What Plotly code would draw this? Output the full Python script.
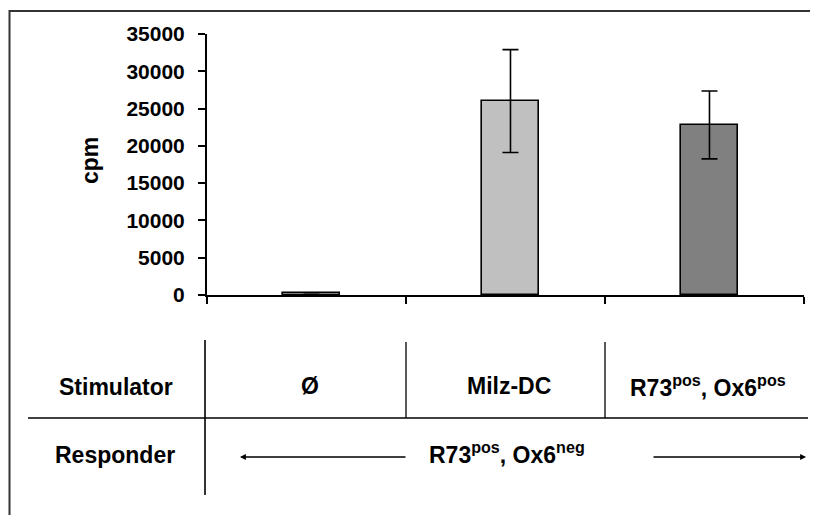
import plotly.graph_objects as go

# ---- data ----
stimulators = ["Ø", "Milz-DC", "R73<sup>pos</sup>, Ox6<sup>pos</sup>"]
cpm_values = [300, 26000, 22800]
cpm_errors = [0, 6900, 4550]
bar_colors = ["#FFFFFF", "#C0C0C0", "#808080"]
y_ticks = [0, 5000, 10000, 15000, 20000, 25000, 30000, 35000]
responder_label = "R73<sup>pos</sup>, Ox6<sup>neg</sup>"

FONT = "Liberation Sans, Arial, sans-serif"
OFF = 8  # page body margin
W, H = 819 - 2 * OFF, 524 - 2 * OFF
L, T = 207 - OFF, 34 - OFF
R = W - (804 - OFF)
B = H - (295 - OFF)
PW = W - L - R
PH = H - T - B

def px(xpix):
    """reference-screen x pixel -> paper x"""
    return (xpix - OFF - L) / PW

def py(ypix):
    """reference-screen y pixel -> paper y"""
    return (H - B - (ypix - OFF)) / PH

xpos = list(range(len(stimulators)))

fig = go.Figure()
fig.add_trace(go.Bar(
    x=xpos, y=cpm_values,
    width=0.285, offset=-0.1175,
    marker=dict(color=bar_colors, line=dict(color="#000000", width=1.6)),
    error_y=dict(type="data", array=cpm_errors, visible=True,
                 color="#000000", thickness=1.6, width=8),
    showlegend=False,
))

shapes = []
line_col = "#000000"
# outer frame (only top and left visible), kept inside the figure
fx0, fy0 = px(OFF + 1.5), py(11)
fx1, fy1 = px(OFF + W - 1), py(OFF + H - 1)
shapes.append(dict(type="path", xref="paper", yref="paper",
                   path=f"M {fx0},{fy1} L {fx0},{fy0} L {fx1},{fy0}",
                   line=dict(color="#333333", width=2)))
# table lines
shapes.append(dict(type="line", xref="paper", yref="paper",
                   x0=px(28), x1=px(808), y0=py(418), y1=py(418),
                   line=dict(color=line_col, width=1.6)))
shapes.append(dict(type="line", xref="paper", yref="paper",
                   x0=px(205), x1=px(205), y0=py(340), y1=py(495),
                   line=dict(color=line_col, width=1.6)))
for xb in [0.5, 1.5]:
    shapes.append(dict(type="line", xref="x", yref="paper",
                       x0=xb, x1=xb, y0=py(342), y1=py(418),
                       line=dict(color=line_col, width=1.3)))

annotations = []
tfont = dict(family=FONT, size=23, color="#000000", weight=700)
annotations.append(dict(text="Stimulator", xref="paper", yref="paper",
                        x=px(116), y=py(387), showarrow=False, font=tfont,
                        xanchor="center", yanchor="middle"))
annotations.append(dict(text="Responder", xref="paper", yref="paper",
                        x=px(115), y=py(455), showarrow=False, font=tfont,
                        xanchor="center", yanchor="middle"))
for i, s in enumerate(stimulators):
    annotations.append(dict(text=s, xref="x", yref="paper",
                            x=xpos[i] + 0.02, y=py(386), showarrow=False, font=tfont,
                            xanchor="center", yanchor="middle"))
annotations.append(dict(text=responder_label, xref="paper", yref="paper",
                        x=px(507), y=py(453), showarrow=False, font=tfont,
                        xanchor="center", yanchor="middle"))
# arrows
annotations.append(dict(text="", xref="paper", yref="paper",
                        x=px(240), y=py(457), ax=167, ay=0,
                        showarrow=True, arrowhead=2, arrowsize=0.9,
                        arrowwidth=1.3, arrowcolor="#000000"))
annotations.append(dict(text="", xref="paper", yref="paper",
                        x=px(806), y=py(457), ax=-154, ay=0,
                        showarrow=True, arrowhead=2, arrowsize=0.9,
                        arrowwidth=1.3, arrowcolor="#000000"))
# y-axis title
annotations.append(dict(text="cpm", xref="paper", yref="paper",
                        x=px(90), y=py(161), showarrow=False, textangle=-90,
                        font=tfont, xanchor="center", yanchor="middle"))

fig.update_layout(
    width=W, height=H,
    margin=dict(l=L, r=R, t=T, b=B, pad=0),
    paper_bgcolor="#FFFFFF", plot_bgcolor="#FFFFFF",
    shapes=shapes, annotations=annotations,
    bargap=0,
)
fig.update_xaxes(
    range=[-0.5, 2.5], showgrid=False, zeroline=False,
    showline=True, linecolor="#000000", linewidth=2,
    ticks="outside", ticklen=7, tickwidth=1.6, tickcolor="#000000",
    tickvals=[-0.5, 0.5, 1.5, 2.5], showticklabels=False,
)
fig.update_yaxes(
    range=[0, 35000], showgrid=False, zeroline=False,
    showline=True, linecolor="#000000", linewidth=2,
    ticks="outside", ticklen=7, tickwidth=1.6, tickcolor="#000000",
    tickvals=y_ticks, ticktext=[str(v) for v in y_ticks],
    tickfont=dict(family=FONT, size=21, color="#000000", weight=700),
    ticklabelstandoff=9,
)

fig.write_html("out.html")
